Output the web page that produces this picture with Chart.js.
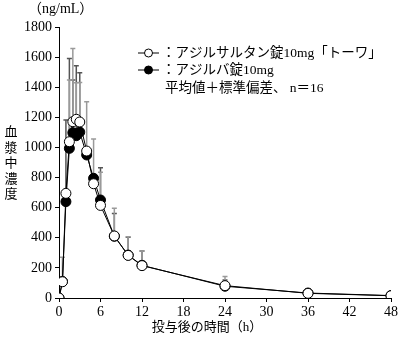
<!DOCTYPE html>
<html>
<head>
<meta charset="utf-8">
<script src="https://cdn.jsdelivr.net/npm/chart.js@4"></script>
<style>
  html, body { margin: 0; padding: 0; background: #fff; }
  #wrap { width: 400px; height: 339px; }
</style>
</head>
<body>
<div id="wrap"><canvas id="pk" width="400" height="339"></canvas></div>
<script>
// data
var hours = [0, 0.5, 1, 1.5, 2, 2.5, 3, 4, 5, 6, 8, 10, 12, 24, 36, 48];
var towaMean = [0, 108, 695, 1038, 1171, 1187, 1169, 976, 759, 615, 412, 283, 215, 82, 31, 15];
var towaSd   = [0, 162, 0, 410, 486, 243, 263, 328, 297, 220, 184, 124, 97, 60, 14, 0];
var azilvaMean = [0, 110, 640, 994, 1098, 1078, 1102, 950, 795, 651, 410, 285, 217, 78, 33, 16];
var azilvaSd   = [0, 0, 542, 596, 350, 465, 394, 0, 0, 214, 152, 118, 95, 42, 0, 0];
var legendNames = ['：アジルサルタン錠10mg「トーワ」', '：アジルバ錠10mg'];
var noteText = '平均値＋標準偏差、 n＝16';

var FONT = '"Liberation Serif", "Noto Sans CJK JP", serif';

function pts(m) {
	return hours.map(function (h, i) { return { x: h, y: m[i] }; });
}

// upper error bars, drawn below the markers
var errBars = {
	id: 'errBars',
	beforeDatasetsDraw: function (chart) {
		var c = chart.ctx, xs = chart.scales.x, ys = chart.scales.y;
		var sets = [[azilvaMean, azilvaSd, '#555'], [towaMean, towaSd, '#9a9a9a']];
		sets.forEach(function (s) {
			c.save();
			c.strokeStyle = s[2];
			c.lineWidth = 1.5;
			hours.forEach(function (h, i) {
				if (!s[1][i]) return;
				var px = xs.getPixelForValue(h);
				var y0 = ys.getPixelForValue(s[0][i]);
				var y1 = ys.getPixelForValue(s[0][i] + s[1][i]);
				c.beginPath();
				c.moveTo(px, y0); c.lineTo(px, y1);
				c.moveTo(px - 2.5, y1); c.lineTo(px + 2.5, y1);
				c.stroke();
			});
			c.restore();
		});
	}
};

// titles and legend block
var labels = {
	id: 'labels',
	afterDraw: function (chart) {
		var c = chart.ctx;
		c.save();
		c.fillStyle = '#000';
		c.font = '14px ' + FONT;
		c.textBaseline = 'middle';
		c.textAlign = 'left';
		c.fillText('（ng/mL）', 28, 9);
		c.font = '13px ' + FONT;
		c.textAlign = 'center';
		c.fillText('投与後の時間（h）', 207, 328);
		var v = '血漿中濃度';
		for (var i = 0; i < v.length; i++) c.fillText(v[i], 11, 133 + i * 15.5);

		// legend
		c.font = '13.5px ' + FONT;
		var rows = [[53, '#fff'], [70, '#000']];
		rows.forEach(function (r, k) {
			c.strokeStyle = '#000';
			c.lineWidth = 1;
			c.beginPath();
			c.moveTo(138, r[0]); c.lineTo(159, r[0]);
			c.stroke();
			c.beginPath();
			c.arc(148.5, r[0], 4, 0, Math.PI * 2);
			c.fillStyle = r[1];
			c.fill();
			c.stroke();
			c.fillStyle = '#000';
			c.textAlign = 'left';
			c.fillText(legendNames[k], 162, r[0]);
		});
		c.fillText(noteText, 165, 88);
		c.restore();
	}
};

var ctx = document.getElementById('pk');
var myChart = new Chart(ctx, {
	type: 'line',
	data: {
		datasets: [{
			label: 'towa',
			data: pts(towaMean),
			borderColor: '#000',
			borderWidth: 1,
			pointRadius: 5,
			pointBackgroundColor: '#fff',
			pointBorderColor: '#000',
			pointBorderWidth: 1
		}, {
			label: 'azilva',
			data: pts(azilvaMean),
			borderColor: '#000',
			borderWidth: 1,
			pointRadius: 5,
			pointBackgroundColor: '#000',
			pointBorderColor: '#000',
			pointBorderWidth: 1
		}]
	},
	plugins: [errBars, labels],
	options: {
		responsive: false,
		animation: false,
		layout: { padding: { top: 27, right: 8, left: 0, bottom: 0 } },
		plugins: {
			legend: { display: false },
			tooltip: { enabled: false }
		},
		scales: {
			x: {
				type: 'linear',
				min: 0, max: 48,
				afterFit: function (s) { s.height = 41; },
				ticks: { stepSize: 6, color: '#000', font: { family: FONT, size: 14 }, padding: 2 },
				grid: { drawOnChartArea: false, tickLength: 4, color: '#000' },
				border: { color: '#000' }
			},
			y: {
				min: 0, max: 1800,
				afterFit: function (s) { s.width = 59; },
				ticks: {
					stepSize: 200, color: '#000', font: { family: FONT, size: 14 }, padding: 3,
					callback: function (v) { return String(v); }
				},
				grid: { drawOnChartArea: false, tickLength: 4, color: '#000' },
				border: { color: '#000' }
			}
		}
	}
});
</script>
</body>
</html>
